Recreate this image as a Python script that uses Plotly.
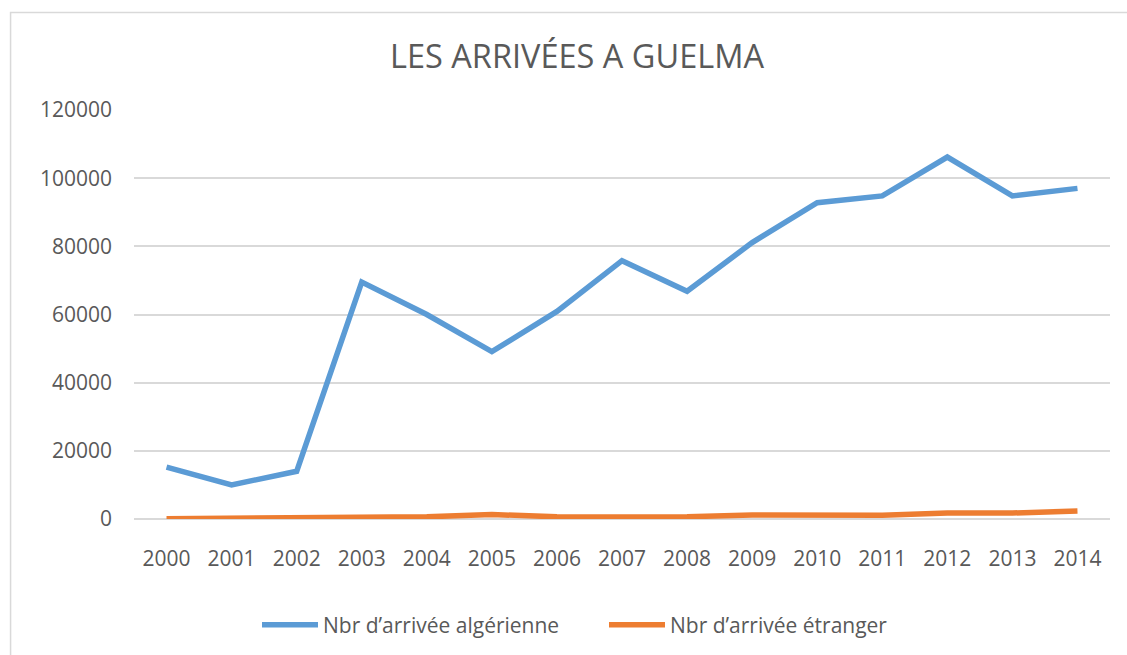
import plotly.graph_objects as go

# Annual arrivals in Guelma
years = [str(y) for y in range(2000, 2015)]
algerian_arrivals = [15200, 10000, 14000, 69500, 60000, 49100, 60900, 75800,
                     66800, 81100, 92800, 94800, 106200, 94800, 97000]
foreign_arrivals = [100, 150, 150, 600, 650, 1300, 650, 600,
                    650, 1200, 1100, 1100, 1750, 1750, 2350]
y_ticks = [0, 20000, 40000, 60000, 80000, 100000, 120000]

series_names = ["Nbr d’arrivée algérienne", "Nbr d’arrivée étranger"]
series_colors = ["#5B9BD5", "#ED7D31"]

W, H = 1127, 655
M_L, M_R, M_T, M_B = 133.5, 17, 109.5, 136.3
plot_w = W - M_L - M_R
plot_h = H - M_T - M_B

FONT = "Open Sans"
GREY = "#595959"

fig = go.Figure()
for name, vals, col in zip(series_names, [algerian_arrivals, foreign_arrivals], series_colors):
    fig.add_trace(go.Scatter(
        x=years, y=vals, name=name, mode="lines",
        line=dict(color=col, width=5.5, shape="linear"),
    ))


def px_x(p):
    return (p - M_L) / plot_w


def px_y(p):
    return (H - M_B - p) / plot_h


# outer chart frame
fig.add_shape(type="rect", xref="paper", yref="paper",
              x0=px_x(10), x1=px_x(1145), y0=px_y(680), y1=px_y(12),
              line=dict(color="#D9D9D9", width=1.5), layer="below")

fig.update_layout(
    width=W, height=H,
    margin=dict(l=M_L, r=M_R, t=M_T, b=M_B),
    paper_bgcolor="white", plot_bgcolor="white",
    font=dict(family=FONT, color=GREY, size=21),
    title=dict(text="LES ARRIVÉES A GUELMA", x=577 / W, xref="container",
               xanchor="center", y=1 - 57 / H, yref="container", yanchor="middle",
               font=dict(family=FONT, size=32.5, color=GREY)),
    xaxis=dict(type="category", range=[-0.5, 14.5], showgrid=False,
               showline=False, zeroline=False, ticks="",
               ticklabelstandoff=25, tickfont=dict(size=21, color=GREY)),
    yaxis=dict(range=[0, 120000], tickvals=y_ticks,
               ticktext=[str(v) for v in y_ticks],
               showgrid=True, gridcolor="#D9D9D9", gridwidth=1.5,
               zeroline=True, zerolinecolor="#D9D9D9", zerolinewidth=1.5,
               showline=False, ticks="", ticklabelstandoff=21,
               tickfont=dict(size=21, color=GREY)),
    legend=dict(orientation="h", xref="container", yref="container",
                x=604 / W, xanchor="center", y=1 - 625 / H, yanchor="middle",
                font=dict(size=21, color=GREY), itemwidth=56,
                entrywidth=276, bgcolor="rgba(0,0,0,0)"),
    showlegend=True,
)

fig.write_html("out.html")
